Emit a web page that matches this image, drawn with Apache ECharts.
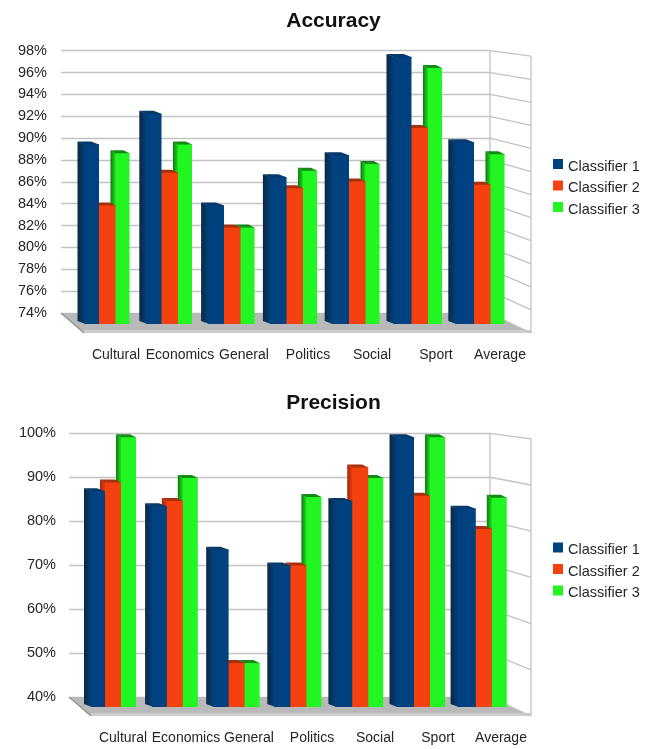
<!DOCTYPE html>
<html>
<head>
<meta charset="utf-8">
<style>html,body{margin:0;padding:0;background:#fff}#c{width:656px;height:749px}</style>
<script src="https://cdn.jsdelivr.net/npm/echarts@6/dist/echarts.min.js"></script>
</head>
<body>
<div id="c"></div>
<script>
var categories = ['Cultural','Economics','General','Politics','Social','Sport','Average'];
var seriesNames = ['Classifier 1','Classifier 2','Classifier 3'];

var accuracy1 = [89.7,92.5,84.1,86.7,88.7,97.7,89.9];
var accuracy2 = [84.1,87.1,82.1,85.7,86.3,91.2,86.0];
var accuracy3 = [88.9,89.7,82.1,87.3,87.9,96.7,88.8];

var precision1 = [87.5,84.1,74.2,70.6,85.3,99.8,83.5];
var precision2 = [89.5,85.3,48.4,70.6,92.9,86.5,78.9];
var precision3 = [99.8,90.5,48.4,86.2,90.5,99.8,86.0];

var FONT = '"Liberation Sans", Arial, sans-serif';
var TEXT = '#22252b';
var WALL = '#c2c2c2';

var paints = [
  {front:'#00427f', sideA:'#0b2744', sideB:'#00427f', top:'#06386a', z:6},
  {front:'#f5410f', sideA:'#a52a08', sideB:'#f03e0e', top:'#a8300c', z:5},
  {front:'#22f622', sideA:'#0d7a0d', sideB:'#22f022', top:'#138a13', z:4}
];

function poly(points, fill){
  return {type:'polygon', shape:{points:points}, style:{fill:fill}, silent:true};
}
function gradient(a,b){
  return new echarts.graphic.LinearGradient(0,0,1,0,[{offset:0,color:a},{offset:1,color:b}]);
}

function barRenderer(s, layout){
  var p = paints[s];
  return function(params, api){
    var i = api.value(0);
    var c = api.coord([i, api.value(1)]);
    var base = api.coord([i, layout.min]);
    var border = c[0] + layout.off + layout.step * i;
    var left, right, side;
    if (s === 0) { right = border; left = border - (layout.blue + 0.7 * i); side = 7; }
    else if (s === 1) { left = border; right = border + layout.orange; side = 5; }
    else { left = border + layout.orange; right = left + layout.green; side = 5; }
    var top = c[1], dy = 3, front = top + dy;
    var bottom = base[1] + layout.drop;
    var backL = left - side, backR = right - side - 1;
    return {type:'group', children:[
      poly([[backL,top],[left+1,front],[left+1,bottom],[backL,bottom-3]], gradient(p.sideA,p.sideB)),
      poly([[backL,top],[backR,top],[right,front],[right,front+1],[left,front+1],[left,front]], p.top),
      poly([[left,front],[right,front],[right,bottom],[left,bottom]], p.front)
    ]};
  };
}

function wallRenderer(layout){
  return function(params, api){
    var cs = params.coordSys;
    var bx = cs.x + cs.width, by = cs.y + cs.height, ty = cs.y;
    var fx = layout.floorRight, fb = by + layout.floorDepth, fl = layout.floorLeft;
    var k = (fb - (ty + layout.wallDrop)) / cs.height;
    var kids = [];
    kids.push(poly([[cs.x,by],[bx,by],[fx,fb],[fl,fb]], '#b9b9b9'));
    kids.push(poly([[fl,fb-3],[fx,fb-3],[fx,fb],[fl,fb]], '#cdcdcd'));
    kids.push({type:'line',shape:{x1:cs.x,y1:by,x2:fl,y2:fb},style:{stroke:'#8f8f8f',lineWidth:1.2},silent:true});
    var lines = [[bx,ty,bx,by],[fx,ty+layout.wallDrop,fx,fb]];
    layout.ticks.forEach(function(t){
      var y = api.coord([0,t])[1];
      lines.push([bx,y,fx,fb-(by-y)*k]);
    });
    lines.forEach(function(l){
      kids.push({type:'line',shape:{x1:l[0],y1:l[1],x2:l[2],y2:l[3]},style:{stroke:WALL,lineWidth:1.3},silent:true});
    });
    return {type:'group',children:kids};
  };
}

function tickList(min,max,step){
  var out=[]; for(var v=min;v<=max;v+=step){out.push(v);} return out;
}

var layouts = [
 {title:'Accuracy', titleTop:6, data:[accuracy1,accuracy2,accuracy3], min:74,max:98,interval:2,
  back:{left:61,top:50.7,width:429,height:262.3}, frontLeft:84, frontWidth:448,
  labelMargin:35, yMargin:14, legendTop:154, off:-17, step:-1.5, blue:14.5, orange:16.5, green:14, drop:11,
  floorLeft:84, floorRight:531, floorDepth:20, wallDrop:5.5},
 {title:'Precision', titleTop:388, data:[precision1,precision2,precision3], min:40,max:100,interval:10,
  back:{left:69,top:433.3,width:421,height:263.7}, frontLeft:91.5, frontWidth:441,
  labelMargin:34, yMargin:13, legendTop:537.5, off:-18, step:-1.2, blue:14, orange:16, green:15, drop:10,
  floorLeft:91, floorRight:531, floorDepth:19, wallDrop:5.5}
];

var option = {
  animation:false, backgroundColor:'#fff',
  title:[], legend:[], grid:[], xAxis:[], yAxis:[], series:[]
};

layouts.forEach(function(L,n){
  L.ticks = tickList(L.min,L.max,L.interval);
  var ga = n*2, gb = n*2+1;
  option.title.push({text:L.title,left:328.5,top:L.titleTop,textAlign:'center',
    textStyle:{fontFamily:FONT,fontSize:21,fontWeight:'bold',color:'#111'}});
  option.legend.push({data:seriesNames,orient:'vertical',left:548,top:L.legendTop,icon:'rect',
    itemWidth:10,itemHeight:10,itemGap:6.5,selectedMode:false,
    formatter:'{a|{name}}',
    textStyle:{rich:{a:{fontFamily:FONT,fontSize:14.5,color:TEXT,padding:[5,0,0,0]}}}});
  option.grid.push({left:L.back.left,top:L.back.top,width:L.back.width,height:L.back.height});
  option.grid.push({left:L.frontLeft,top:L.back.top,width:L.frontWidth,height:L.back.height});
  option.xAxis.push({type:'category',gridIndex:ga,data:categories,show:false});
  option.xAxis.push({type:'category',gridIndex:gb,data:categories,
    axisLine:{show:false},axisTick:{show:false},splitLine:{show:false},
    axisLabel:{interval:0,margin:L.labelMargin,fontFamily:FONT,fontSize:14,color:TEXT}});
  option.yAxis.push({type:'value',gridIndex:ga,min:L.min,max:L.max,interval:L.interval,
    axisLine:{show:false},axisTick:{show:false},
    axisLabel:{margin:L.yMargin,fontFamily:FONT,fontSize:14.5,color:TEXT,formatter:'{value}%'},
    splitLine:{show:true,lineStyle:{color:WALL,width:1.4}}});
  option.yAxis.push({type:'value',gridIndex:gb,min:L.min,max:L.max,interval:L.interval,show:false,splitLine:{show:false}});
  option.series.push({type:'custom',name:'walls'+n,xAxisIndex:ga,yAxisIndex:ga,z:1,silent:true,clip:false,
    data:[[0,L.min]],encode:{x:0,y:1},renderItem:wallRenderer(L)});
  seriesNames.forEach(function(name,s){
    option.series.push({type:'custom',name:name,xAxisIndex:gb,yAxisIndex:gb,z:paints[s].z,clip:false,
      itemStyle:{color:paints[s].front},
      data:L.data[s].map(function(v,i){return [i,v];}),encode:{x:0,y:1},
      renderItem:barRenderer(s,L)});
  });
});

var chart = echarts.init(document.getElementById('c'),null,{renderer:'canvas'});
chart.setOption(option);
</script>
</body>
</html>
